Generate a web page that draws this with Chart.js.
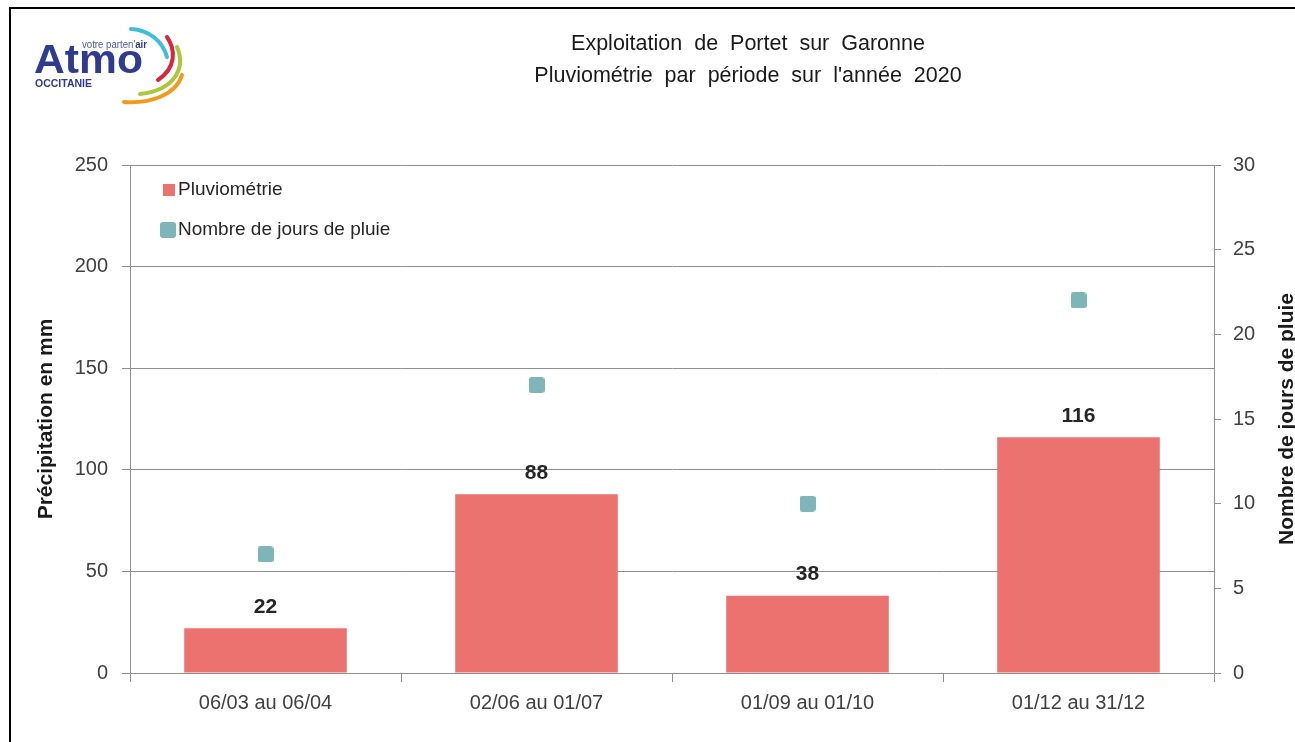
<!DOCTYPE html>
<html><head><meta charset="utf-8">
<script src="https://cdn.jsdelivr.net/npm/chart.js@4.4.0/dist/chart.umd.min.js"></script>
<style>
html,body{margin:0;padding:0;background:#fff;width:1295px;height:742px;overflow:hidden;}
#wrap{position:relative;width:1295px;height:742px;}
#frame{position:absolute;left:9px;top:7px;width:1300px;height:800px;border-left:2px solid #000;border-top:2px solid #000;}
#chart{position:absolute;left:0;top:0;}
#title{position:absolute;left:448px;width:600px;top:27px;text-align:center;font:21.5px 'Liberation Sans',Arial,sans-serif;line-height:32px;color:#1a1a1a;word-spacing:6px;}
#logo{position:absolute;left:0;top:0;}
</style>
</head><body>
<div id="wrap">
<div id="frame"></div>
<canvas id="chart" width="1295" height="742"></canvas>
<svg id="logo" width="220" height="120" viewBox="0 0 220 120">
  <path d="M 131 29 C 150 30 163 42 167 57" fill="none" stroke="#3CBFDA" stroke-width="4" stroke-linecap="round"/>
  <path d="M 167 37 C 176 50 176 68 158 80" fill="none" stroke="#D7263D" stroke-width="4" stroke-linecap="round"/>
  <path d="M 177 47 C 186 68 175 90 140 94" fill="none" stroke="#A9C93B" stroke-width="4" stroke-linecap="round"/>
  <path d="M 182 75 C 176 95 150 104 124 102" fill="none" stroke="#F39A1E" stroke-width="4" stroke-linecap="round"/>
  <text x="34" y="73" font-family="Liberation Sans, Arial, sans-serif" font-weight="bold" font-size="41" fill="#2E3B8F" textLength="109" lengthAdjust="spacingAndGlyphs">Atmo</text>
  <text x="82" y="48" font-family="Liberation Sans, Arial, sans-serif" font-size="10" fill="#4A5AA8" textLength="65" lengthAdjust="spacingAndGlyphs">votre parten'<tspan font-weight="bold" fill="#2E3B8F">air</tspan></text>
  <text x="35" y="87" font-family="Liberation Sans, Arial, sans-serif" font-weight="bold" font-size="11" fill="#2E3B8F" textLength="57" lengthAdjust="spacingAndGlyphs">OCCITANIE</text>
</svg>
<div id="title">Exploitation de Portet sur Garonne<br>Pluviométrie par période sur l'année 2020</div>
</div>
<script>
// ---- data ----
const categories = ['06/03 au 06/04', '02/06 au 01/07', '01/09 au 01/10', '01/12 au 31/12'];
const pluviometrie = [22, 88, 38, 116];
const joursPluie = [7, 17, 10, 22];
const leftTicks = [0, 50, 100, 150, 200, 250];
const rightTicks = [0, 5, 10, 15, 20, 25, 30];
const seriesLabels = ['Pluviométrie', 'Nombre de jours de pluie'];
const axisTitles = ['Précipitation en mm', 'Nombre de jours de pluie'];

// ---- styles ----
const BAR_COLOR = '#EC7270';
const PT_COLOR = '#7DB5B8';
const GRID = '#8f8f8f';
const TXT = '#404040';
const FONT = "'Liberation Sans', Arial, sans-serif";

function squareCanvas(size, color, radius) {
  const c = document.createElement('canvas');
  c.width = size; c.height = size;
  const x = c.getContext('2d');
  x.fillStyle = color;
  x.beginPath();
  x.roundRect(0, 0, size, size, radius);
  x.fill();
  return c;
}
const ptImg = squareCanvas(16, PT_COLOR, 3);
const barLegImg = squareCanvas(12, BAR_COLOR, 0);

const overlay = {
  id: 'overlay',
  afterDatasetsDraw(chart) {
    const ctx = chart.ctx;
    const meta = chart.getDatasetMeta(0);
    ctx.save();
    ctx.font = "bold 21px " + FONT;
    ctx.fillStyle = '#262626';
    ctx.textAlign = 'center';
    ctx.textBaseline = 'alphabetic';
    meta.data.forEach((bar, i) => {
      ctx.fillText(String(chart.data.datasets[0].data[i]), bar.x, bar.y - 15.5);
    });
    ctx.restore();
  },
  afterDraw(chart) {
    const ctx = chart.ctx;
    const a = chart.chartArea;
    ctx.save();
    // legend
    ctx.font = "19px " + FONT;
    ctx.fillStyle = '#262626';
    ctx.textBaseline = 'middle';
    ctx.textAlign = 'left';
    const ds = chart.data.datasets;
    ctx.drawImage(barLegImg, a.left + 33, a.top + 25 - 6);
    ctx.fillText(ds[0].label, a.left + 48, a.top + 25);
    ctx.drawImage(ptImg, a.left + 30, a.top + 65 - 8);
    ctx.fillText(ds[1].label, a.left + 48, a.top + 65);
    // right axis title
    ctx.font = "bold 21px " + FONT;
    ctx.fillStyle = '#1a1a1a';
    ctx.textAlign = 'center';
    ctx.translate(1287, (a.top + a.bottom) / 2);
    ctx.rotate(-Math.PI / 2);
    ctx.fillText(axisTitles[1], 0, 0);
    ctx.restore();
  }
};

new Chart(document.getElementById('chart'), {
  data: {
    labels: categories,
    datasets: [
      {
        type: 'bar', label: seriesLabels[0], data: pluviometrie, yAxisID: 'y',
        backgroundColor: BAR_COLOR, barPercentage: 0.6, categoryPercentage: 1, order: 2
      },
      {
        type: 'line', label: seriesLabels[1], data: joursPluie, yAxisID: 'y2',
        showLine: false, pointStyle: ptImg, pointRadius: 8, pointHoverRadius: 8, order: 1
      }
    ]
  },
  options: {
    responsive: false,
    animation: false,
    layout: { padding: { left: 10, right: 0, top: 165, bottom: 0 } },
    plugins: { legend: { display: false }, tooltip: { enabled: false } },
    scales: {
      x: {
        offset: true,
        grid: { display: true, drawOnChartArea: false, offset: true, tickLength: 9, color: GRID },
        border: { color: GRID },
        ticks: { font: { family: FONT, size: 20 }, color: TXT, padding: 9 },
        afterFit(s) { s.height = 69; }
      },
      y: {
        position: 'left', min: 0, max: 250,
        afterBuildTicks(s) { s.ticks = leftTicks.map(v => ({ value: v })); },
        grid: { color: GRID, tickLength: 8 },
        border: { color: GRID },
        ticks: { font: { family: FONT, size: 20 }, color: TXT, padding: 14 },
        title: { display: true, text: axisTitles[0], font: { family: FONT, size: 21, weight: 'bold' }, color: '#1a1a1a', padding: { top: 24, bottom: 0 } },
        afterFit(s) { s.width = 120; }
      },
      y2: {
        position: 'right', min: 0, max: 30,
        afterBuildTicks(s) { s.ticks = rightTicks.map(v => ({ value: v })); },
        grid: { drawOnChartArea: false, color: GRID, tickLength: 7 },
        border: { color: GRID },
        ticks: { font: { family: FONT, size: 20 }, color: TXT, padding: 12 },
        afterFit(s) { s.width = 81; }
      }
    }
  },
  plugins: [overlay]
});
</script>
</body></html>
